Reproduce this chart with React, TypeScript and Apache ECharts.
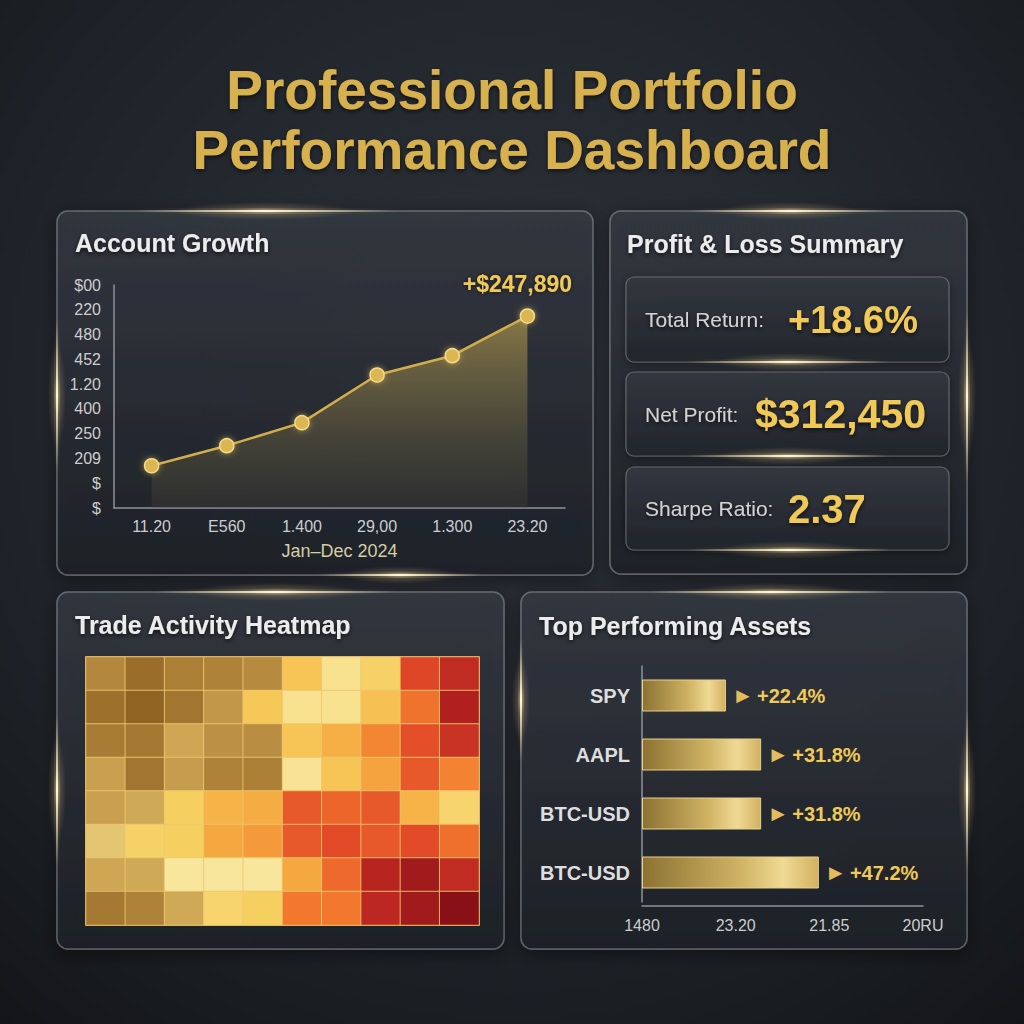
import React, { useEffect, useRef } from "react";
import * as echarts from "echarts";

// ---- Account growth (line) ----
const growthMonths = ["11.20", "E560", "1.400", "29,00", "1.300", "23.20"];
const growthValues = [54600, 80500, 110200, 171800, 196700, 247890];
const growthTickLabels = ["$", "$", "209", "250", "400", "1.20", "452", "480", "220", "$00"];
const growthAxisName = "Jan\u2013Dec 2024";

// ---- Profit & loss summary ----
const summaryLabels = ["Total Return:", "Net Profit:", "Sharpe Ratio:"];
const summaryValues = ["+18.6%", "$312,450", "2.37"];

// ---- Trade activity heatmap (rows top to bottom, 10 columns) ----
const heatRow0 = [14, 5, 11, 12, 15, 52, 42, 48, 81, 88];
const heatRow1 = [6, 1, 8, 19, 51, 42, 42, 53, 71, 92];
const heatRow2 = [10, 9, 24, 17, 16, 52, 58, 67, 79, 86];
const heatRow3 = [22, 8, 21, 12, 11, 41, 52, 61, 77, 68];
const heatRow4 = [22, 25, 49, 57, 59, 77, 74, 77, 57, 47];
const heatRow5 = [33, 48, 49, 60, 63, 77, 80, 77, 80, 72];
const heatRow6 = [24, 25, 40, 40, 40, 60, 73, 90, 95, 88];
const heatRow7 = [9, 12, 25, 47, 49, 70, 70, 89, 95, 100];
const heatRows = [heatRow0, heatRow1, heatRow2, heatRow3, heatRow4, heatRow5, heatRow6, heatRow7];
const heatColors = [
  "#8c6020", "#a87c34", "#c49a4c", "#dcb860", "#f8e69c", "#f6cc5a",
  "#f5a840", "#f2782e", "#e24a28", "#b82420", "#8a1018",
];

// ---- Top performing assets (bar) ----
const assetNames = ["SPY", "AAPL", "BTC-USD", "BTC-USD"];
const assetReturns = [22.4, 31.8, 31.8, 47.2];
const assetTickLabels = ["1480", "23.20", "21.85", "20RU"];

const FONT = "'Liberation Sans', Arial, sans-serif";
const GOLD = "#f0c957";
const TITLE_GOLD = "#d8b14f";

function lg(x2: number, y2: number, stops: [number, string][]) {
  return new echarts.graphic.LinearGradient(0, 0, x2, y2, stops.map(([offset, color]) => ({ offset, color })));
}

function panel(x: number, y: number, w: number, h: number) {
  return {
    type: "rect",
    z: 0,
    shape: { x, y, width: w, height: h, r: 11 },
    style: {
      fill: lg(0, 1, [[0, "rgba(54,59,68,0.78)"], [1, "rgba(30,33,40,0.88)"]]),
      stroke: "rgba(190,192,198,0.38)",
      lineWidth: 1.5,
      shadowBlur: 18,
      shadowColor: "rgba(0,0,0,0.55)",
      shadowOffsetY: 4,
    },
  };
}

function card(x: number, y: number, w: number, h: number) {
  return {
    type: "rect",
    z: 1,
    shape: { x, y, width: w, height: h, r: 8 },
    style: {
      fill: lg(0, 1, [[0, "rgba(52,56,65,0.9)"], [1, "rgba(34,37,44,0.92)"]]),
      stroke: "rgba(170,172,178,0.40)",
      lineWidth: 1.2,
      shadowBlur: 8,
      shadowColor: "rgba(0,0,0,0.45)",
      shadowOffsetY: 2,
    },
  };
}

function halo(cx: number, cy: number, rx: number, ry: number) {
  return {
    type: "ellipse",
    z: 6,
    silent: true,
    shape: { cx, cy, rx, ry },
    style: {
      fill: new echarts.graphic.RadialGradient(0.5, 0.5, 0.5, [
        { offset: 0, color: "rgba(255,232,180,0.55)" },
        { offset: 0.4, color: "rgba(255,220,150,0.18)" },
        { offset: 1, color: "rgba(255,220,150,0)" },
      ]),
    },
  };
}

// Light streak along a horizontal edge
function glowH(cx: number, y: number, len: number) {
  return [
    halo(cx, y, len * 0.35, 9),
    {
      type: "rect",
      z: 7,
      silent: true,
      shape: { x: cx - len / 2, y: y - 1, width: len, height: 2 },
      style: {
        fill: lg(1, 0, [[0, "rgba(255,230,180,0)"], [0.5, "rgba(255,246,220,1)"], [1, "rgba(255,230,180,0)"]]),
        shadowBlur: 8,
        shadowColor: "rgba(255,215,140,0.9)",
      },
    },
  ];
}

// Light streak along a vertical edge
function glowV(x: number, cy: number, len: number) {
  return [
    halo(x, cy, 9, len * 0.35),
    {
      type: "rect",
      z: 7,
      silent: true,
      shape: { x: x - 1, y: cy - len / 2, width: 2, height: len },
      style: {
        fill: lg(0, 1, [[0, "rgba(255,230,180,0)"], [0.5, "rgba(255,246,220,1)"], [1, "rgba(255,230,180,0)"]]),
        shadowBlur: 8,
        shadowColor: "rgba(255,215,140,0.9)",
      },
    },
  ];
}

function text(x: number, y: number, t: string, size: number, fill: string, weight = "bold", align = "left") {
  return {
    type: "text",
    z: 10,
    x,
    y,
    style: {
      text: t,
      fontSize: size,
      fontWeight: weight,
      fontFamily: FONT,
      fill,
      align,
      verticalAlign: "middle",
      textShadowColor: "rgba(0,0,0,0.65)",
      textShadowBlur: 4,
      textShadowOffsetY: 2,
    },
  };
}

export default function App() {
  const ref = useRef<HTMLDivElement>(null);

  useEffect(() => {
    if (!ref.current) return;
    const chart = echarts.init(ref.current, undefined, { renderer: "svg" });

    const heatData: number[][] = [];
    heatRows.forEach((row, r) => row.forEach((v, c) => heatData.push([c, r, v])));

    const last = growthValues.length - 1;
    const lineData = growthValues.map((v, i) =>
      i === last
        ? {
            value: v,
            label: {
              show: true,
              position: "top",
              offset: [-10, -8],
              formatter: "+$" + v.toLocaleString("en-US"),
              color: GOLD,
              fontSize: 23,
              fontWeight: "bold",
              fontFamily: FONT,
              textShadowColor: "rgba(0,0,0,0.6)",
              textShadowBlur: 4,
            },
          }
        : v
    );

    const cardTops = [277, 372, 467];
    const cardHeights = [85, 84, 83];
    const valueX = [788, 755, 788];
    const valueSizes = [38, 41, 40];

    const graphic: any[] = [
      panel(57, 211, 536, 364),
      panel(610, 211, 357, 363),
      panel(57, 592, 447, 357),
      panel(521, 592, 446, 357),
      ...cardTops.map((t, i) => card(626, t, 323, cardHeights[i])),
      text(512, 90, "Professional Portfolio", 55, TITLE_GOLD, "bold", "center"),
      text(512, 150, "Performance Dashboard", 55, TITLE_GOLD, "bold", "center"),
      text(75, 243, "Account Growth", 25, "#ececec"),
      text(627, 244, "Profit & Loss Summary", 25, "#ececec"),
      text(75, 625, "Trade Activity Heatmap", 25, "#ececec"),
      text(539, 626, "Top Performing Assets", 25, "#ececec"),
      ...summaryLabels.map((l, i) => text(645, cardTops[i] + cardHeights[i] / 2, l, 21, "#d2d2d2", "normal")),
      ...summaryValues.map((v, i) =>
        text(valueX[i], cardTops[i] + cardHeights[i] / 2, v, valueSizes[i], GOLD)
      ),
      ...glowH(265, 211, 260),
      ...glowV(57, 395, 150),
      ...glowH(790, 211, 200),
      ...glowV(967, 397, 170),
      ...glowH(788, 362, 200),
      ...glowH(788, 456, 200),
      ...glowH(790, 550, 200),
      ...glowH(275, 592, 240),
      ...glowV(57, 790, 150),
      ...glowH(770, 592, 240),
      ...glowV(967, 790, 160),
      ...glowH(400, 575, 160),
      ...glowV(521, 700, 120),
    ];

    chart.setOption({
      animation: false,
      backgroundColor: new echarts.graphic.RadialGradient(0.5, 0.38, 0.8, [
        { offset: 0, color: "#2d323a" },
        { offset: 0.6, color: "#20242a" },
        { offset: 1, color: "#131519" },
      ]),
      graphic,
      grid: [
        { left: 114, top: 285, width: 451, height: 223, z: 2 },
        {
          left: 86, top: 657, width: 393, height: 268, z: 2, show: true,
          borderColor: "rgba(236,196,104,0.9)", borderWidth: 1.5, backgroundColor: "transparent",
        },
        { left: 642, top: 666, width: 281, height: 236, z: 2 },
      ],
      xAxis: [
        {
          gridIndex: 0,
          type: "category",
          data: growthMonths,
          boundaryGap: true,
          z: 3,
          axisLine: { lineStyle: { color: "#8d929a", width: 1.5 } },
          axisTick: { show: false },
          axisLabel: { color: "#cdcdcd", fontSize: 16, fontFamily: FONT, margin: 10 },
          name: growthAxisName,
          nameLocation: "middle",
          nameGap: 34,
          nameTextStyle: { color: "#d8cba8", fontSize: 18, fontFamily: FONT },
        },
        {
          gridIndex: 1,
          type: "category",
          data: heatRow0.map((_, i) => String(i)),
          show: false,
        },
        {
          gridIndex: 2,
          type: "value",
          min: 0,
          max: 75,
          interval: 25,
          z: 3,
          offset: 4,
          axisLine: { show: true, lineStyle: { color: "#8d929a", width: 1.5 } },
          axisTick: { show: false },
          splitLine: { show: false },
          axisLabel: {
            color: "#cdcdcd",
            fontSize: 16,
            fontFamily: FONT,
            margin: 11,
            formatter: (v: number) => assetTickLabels[Math.round(v / 25)] ?? "",
          },
        },
      ],
      yAxis: [
        {
          gridIndex: 0,
          type: "value",
          min: 0,
          max: 288000,
          interval: 32000,
          z: 3,
          axisLine: { show: true, lineStyle: { color: "#8d929a", width: 1.5 } },
          axisTick: { show: false },
          splitLine: { show: false },
          axisLabel: {
            color: "#cdcdcd",
            fontSize: 16,
            fontFamily: FONT,
            margin: 13,
            formatter: (v: number) => growthTickLabels[Math.round(v / 32000)] ?? "",
          },
        },
        {
          gridIndex: 1,
          type: "category",
          data: heatRows.map((_, i) => String(i)),
          inverse: true,
          show: false,
        },
        {
          gridIndex: 2,
          type: "category",
          data: assetNames,
          inverse: true,
          z: 3,
          axisLine: { show: true, lineStyle: { color: "#8d929a", width: 1.5 } },
          axisTick: { show: false },
          axisLabel: { color: "#dedede", fontSize: 20, fontWeight: "bold", fontFamily: FONT, margin: 12 },
        },
      ],
      visualMap: {
        show: false,
        seriesIndex: 1,
        min: 0,
        max: 100,
        inRange: { color: heatColors },
      },
      series: [
        {
          type: "line",
          xAxisIndex: 0,
          yAxisIndex: 0,
          z: 4,
          data: lineData,
          symbol: "circle",
          symbolSize: 14,
          lineStyle: { color: "#d1ad4c", width: 2.5 },
          itemStyle: {
            color: "#dbb652",
            borderColor: "#f3dc8a",
            borderWidth: 1.5,
            shadowBlur: 6,
            shadowColor: "rgba(240,200,90,0.6)",
          },
          areaStyle: {
            opacity: 1,
            color: lg(0, 1, [[0, "rgba(150,132,72,0.85)"], [0.5, "rgba(115,104,66,0.55)"], [1, "rgba(80,76,58,0.25)"]]),
          },
        },
        {
          type: "heatmap",
          xAxisIndex: 1,
          yAxisIndex: 1,
          z: 4,
          data: heatData,
          itemStyle: { borderColor: "rgba(238,200,110,0.85)", borderWidth: 1 },
        },
        {
          type: "bar",
          xAxisIndex: 2,
          yAxisIndex: 2,
          z: 4,
          data: assetReturns,
          barWidth: 32,
          itemStyle: {
            color: lg(1, 0, [[0, "#8c7233"], [0.55, "#cfb263"], [0.8, "#f0da94"], [1, "#d2b162"]]),
            borderColor: "#e8d08a",
            borderWidth: 1,
          },
          label: {
            show: true,
            position: "right",
            distance: 6,
            formatter: (p: any) => "{a|\u25BA} {v|+" + Number(p.value).toFixed(1) + "%}",
            rich: {
              a: { color: "#e3bd5c", fontSize: 22, fontFamily: FONT },
              v: { color: GOLD, fontSize: 20, fontWeight: "bold", fontFamily: FONT },
            },
          },
        },
      ],
    });

    return () => chart.dispose();
  }, []);

  return <div ref={ref} style={{ position: "absolute", left: 0, top: 0, width: 1024, height: 1024 }} />;
}
